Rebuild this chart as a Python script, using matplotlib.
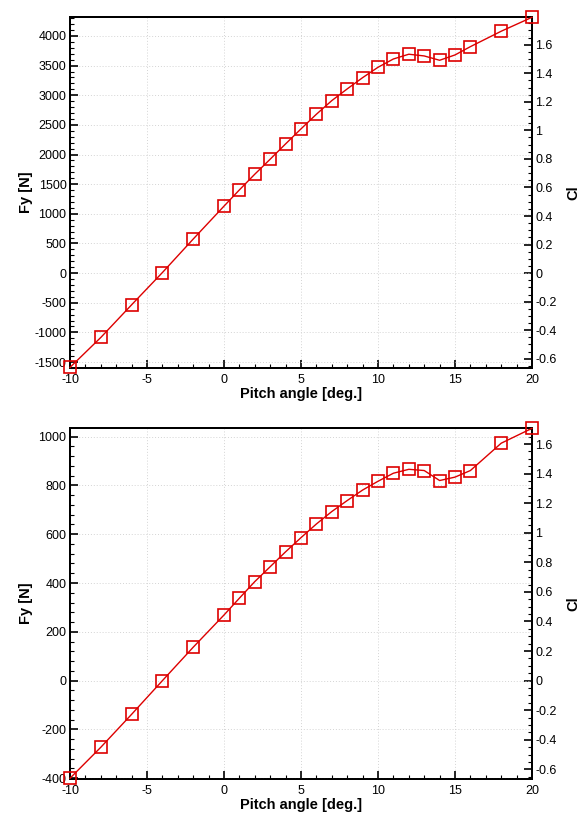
import matplotlib
matplotlib.use('Agg')
import matplotlib.pyplot as plt
from matplotlib.ticker import MultipleLocator

plt.rcParams['font.family'] = ['Liberation Sans', 'DejaVu Sans']
plt.rcParams['axes.unicode_minus'] = False

# angles de tangage [deg.]
angles = [-10, -8, -6, -4, -2, 0, 1, 2, 3, 4, 5, 6, 7, 8, 9, 10, 11, 12, 13, 14, 15, 16, 18, 20]

# effort Fy [N], cas du haut et cas du bas
fy_haut = [-1590, -1085, -534, 10, 575, 1130, 1404, 1669, 1922, 2180, 2433, 2680,
           2910, 3107, 3297, 3472, 3612, 3692, 3663, 3590, 3680, 3820, 4080, 4315]
fy_bas = [-400, -273, -138, 0, 137, 269, 338, 406, 467, 528, 586, 642,
          693, 738, 781, 817, 850, 866, 861, 820, 834, 861, 973, 1034]

# Cl = Fy / (q S)
qs_haut = 2408.
qs_bas = 606.

rouge = '#dd0000'


def trace(ax, fy, ymin, ymax, pas, mineur, qs):
	ax.plot(angles, fy, color=rouge, lw=1.0, marker='s', ms=9, mfc='none',
	        mec=rouge, mew=1.2, clip_on=False, zorder=5)
	ax.set_xlim(-10, 20)
	ax.set_ylim(ymin, ymax)
	ax.xaxis.set_major_locator(MultipleLocator(5))
	ax.xaxis.set_minor_locator(MultipleLocator(1))
	ax.yaxis.set_major_locator(MultipleLocator(pas))
	ax.yaxis.set_minor_locator(MultipleLocator(mineur))
	ax.grid(True, which='major', color='#d4d4d4', ls=(0, (1, 2)), lw=0.7)
	ax.tick_params(which='both', direction='in', labelsize=9, top=False, pad=2.5)
	ax.tick_params(axis='x', which='both', pad=4.5)
	ax.tick_params(which='major', length=6, width=1.2)
	ax.tick_params(which='minor', length=3, width=0.8)
	for s in ax.spines.values():
		s.set_linewidth(1.4)
	ax.set_xlabel('Pitch angle [deg.]', fontsize=10.5, fontweight='bold')
	ax.set_ylabel('Fy [N]', fontsize=10.5, fontweight='bold')
	ax.xaxis.set_label_coords(0.5, -0.054)
	ax.yaxis.set_label_coords(-0.080, 0.5)

	ax2 = ax.twinx()
	ax2.set_ylim(ymin / qs, ymax / qs)
	ax2.yaxis.set_major_locator(MultipleLocator(0.2))
	ax2.yaxis.set_minor_locator(MultipleLocator(0.05))
	ax2.yaxis.set_major_formatter(plt.FuncFormatter(lambda v, p: ('%g' % round(v, 2))))
	ax2.tick_params(which='both', direction='in', labelsize=9, pad=2.5)
	ax2.tick_params(which='major', length=6, width=1.2)
	ax2.tick_params(which='minor', length=3, width=0.8)
	for s in ax2.spines.values():
		s.set_linewidth(1.4)
	ax2.set_ylabel('Cl', fontsize=10.5, fontweight='bold')
	ax2.yaxis.set_label_coords(1.074, 0.5)
	ax.set_zorder(ax2.get_zorder() + 1)
	ax.patch.set_visible(False)


fig = plt.figure(figsize=(5.87, 8.21), dpi=100)
ax_haut = fig.add_axes([0.1193, 0.5518, 0.787, 0.4275])
ax_bas = fig.add_axes([0.1193, 0.0512, 0.787, 0.4271])

trace(ax_haut, fy_haut, -1600, 4320, 500, 100, qs_haut)
trace(ax_bas, fy_bas, -403, 1034, 200, 40, qs_bas)

fig.savefig('out.png', dpi=100)
